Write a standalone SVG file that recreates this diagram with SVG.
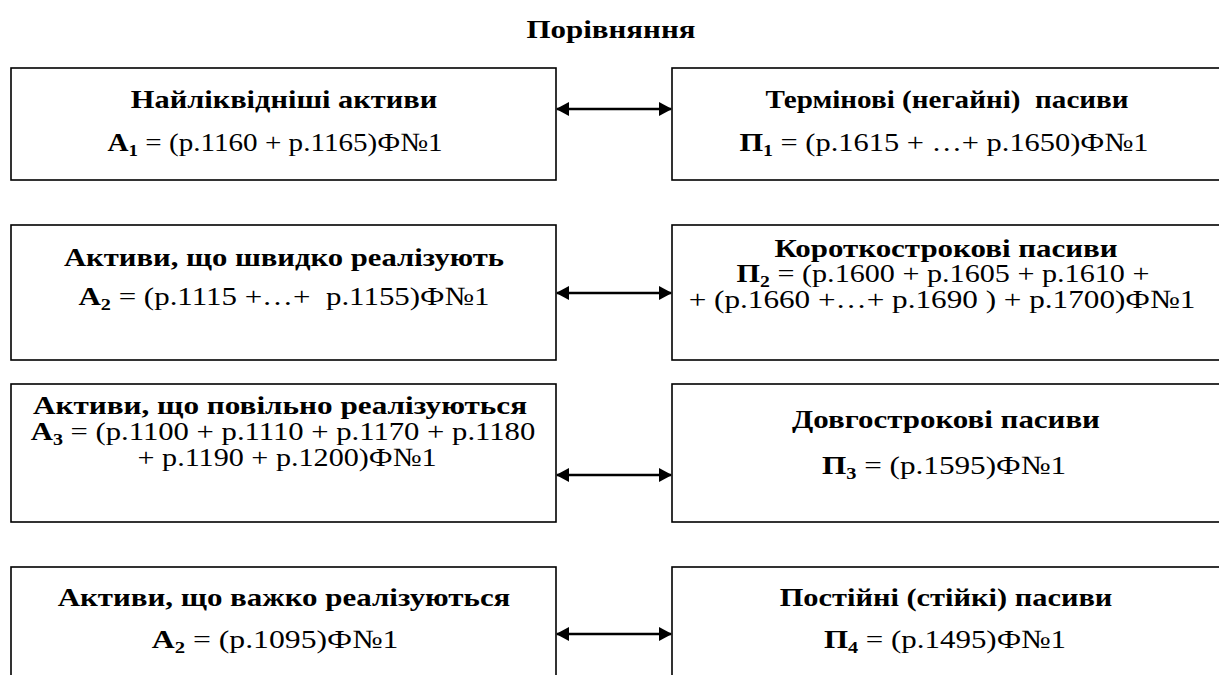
<svg xmlns="http://www.w3.org/2000/svg" width="1219" height="675" viewBox="0 0 1219 675">
<style>
.box{fill:#fff;stroke:#000;stroke-width:1.6}
.t{font-family:"Liberation Serif","Times New Roman",serif;font-size:26px;fill:#000;text-anchor:middle}
.b{font-weight:bold}
.s{font-size:17px;font-weight:bold}
.arr{stroke:#000;stroke-width:2.6;fill:none;marker-start:url(#ah);marker-end:url(#ah)}
</style>
<defs>
<marker id="ah" viewBox="0 0 13 14" refX="12" refY="7" markerWidth="13" markerHeight="14" markerUnits="userSpaceOnUse" orient="auto-start-reverse">
<path d="M0,0 L13,7 L0,14 Z" fill="#000"/>
</marker>
</defs>
<rect width="1219" height="675" fill="#fff"/>
<text class="t b" transform="translate(611,38) scale(1.19,1)">Порівняння</text>

<g id="a1">
<rect class="box" x="11" y="68" width="545" height="112"/>
<text class="t b" transform="translate(284,108) scale(1.17,1)">Найліквідніші активи</text>
<text class="t" transform="translate(275,151) scale(1.12,1)"><tspan class="b">А</tspan><tspan class="s" dy="5">1</tspan><tspan dy="-5"> = (р.1160 + р.1165)Ф№1</tspan></text>
</g>
<g id="p1">
<rect class="box" x="672" y="68" width="560" height="112"/>
<text class="t b" transform="translate(947,108) scale(1.12,1)">Термінові (негайні)&#160; пасиви</text>
<text class="t" transform="translate(944,151) scale(1.17,1)"><tspan class="b">П</tspan><tspan class="s" dy="5">1</tspan><tspan dy="-5"> = (р.1615 + …+ р.1650)Ф№1</tspan></text>
</g>

<g id="a2">
<rect class="box" x="11" y="225" width="545" height="135"/>
<text class="t b" transform="translate(284,266) scale(1.18,1)">Активи, що швидко реалізують</text>
<text class="t" transform="translate(284,305) scale(1.19,1)"><tspan class="b">А</tspan><tspan class="s" dy="5">2</tspan><tspan dy="-5"> = (р.1115 +…+&#160; р.1155)Ф№1</tspan></text>
</g>
<g id="p2">
<rect class="box" x="672" y="225" width="560" height="135"/>
<text class="t b" transform="translate(946,257) scale(1.19,1)">Короткострокові пасиви</text>
<text class="t" transform="translate(943,282) scale(1.16,1)"><tspan class="b">П</tspan><tspan class="s" dy="5">2</tspan><tspan dy="-5"> = (р.1600 + р.1605 + р.1610 +</tspan></text>
<text class="t" transform="translate(942,308) scale(1.2,1)">+ (р.1660 +…+ р.1690 ) + р.1700)Ф№1</text>
</g>

<g id="a3">
<rect class="box" x="11" y="384" width="545" height="138"/>
<text class="t b" transform="translate(280,414) scale(1.2,1)">Активи, що повільно реалізуються</text>
<text class="t" transform="translate(283,440) scale(1.18,1)"><tspan class="b">А</tspan><tspan class="s" dy="5">3</tspan><tspan dy="-5"> = (р.1100 + р.1110 + р.1170 + р.1180</tspan></text>
<text class="t" transform="translate(287,466) scale(1.16,1)">+ р.1190 + р.1200)Ф№1</text>
</g>
<g id="p3">
<rect class="box" x="672" y="384" width="560" height="138"/>
<text class="t b" transform="translate(946,428) scale(1.19,1)">Довгострокові пасиви</text>
<text class="t" transform="translate(944,474) scale(1.2,1)"><tspan class="b">П</tspan><tspan class="s" dy="5">3</tspan><tspan dy="-5"> = (р.1595)Ф№1</tspan></text>
</g>

<g id="a4">
<rect class="box" x="11" y="567" width="545" height="140"/>
<text class="t b" transform="translate(284,606) scale(1.19,1)">Активи, що важко реалізуються</text>
<text class="t" transform="translate(275,648) scale(1.22,1)"><tspan class="b">А</tspan><tspan class="s" dy="5">2</tspan><tspan dy="-5"> = (р.1095)Ф№1</tspan></text>
</g>
<g id="p4">
<rect class="box" x="672" y="567" width="560" height="140"/>
<text class="t b" transform="translate(946,606) scale(1.17,1)">Постійні (стійкі) пасиви</text>
<text class="t" transform="translate(945,648) scale(1.19,1)"><tspan class="b">П</tspan><tspan class="s" dy="5">4</tspan><tspan dy="-5"> = (р.1495)Ф№1</tspan></text>
</g>

<g id="connectors">
<line class="arr" x1="557" y1="109" x2="671" y2="109"/>
<line class="arr" x1="557" y1="293" x2="671" y2="293"/>
<line class="arr" x1="557" y1="475" x2="671" y2="475"/>
<line class="arr" x1="557" y1="634" x2="671" y2="634"/>
</g>
</svg>
